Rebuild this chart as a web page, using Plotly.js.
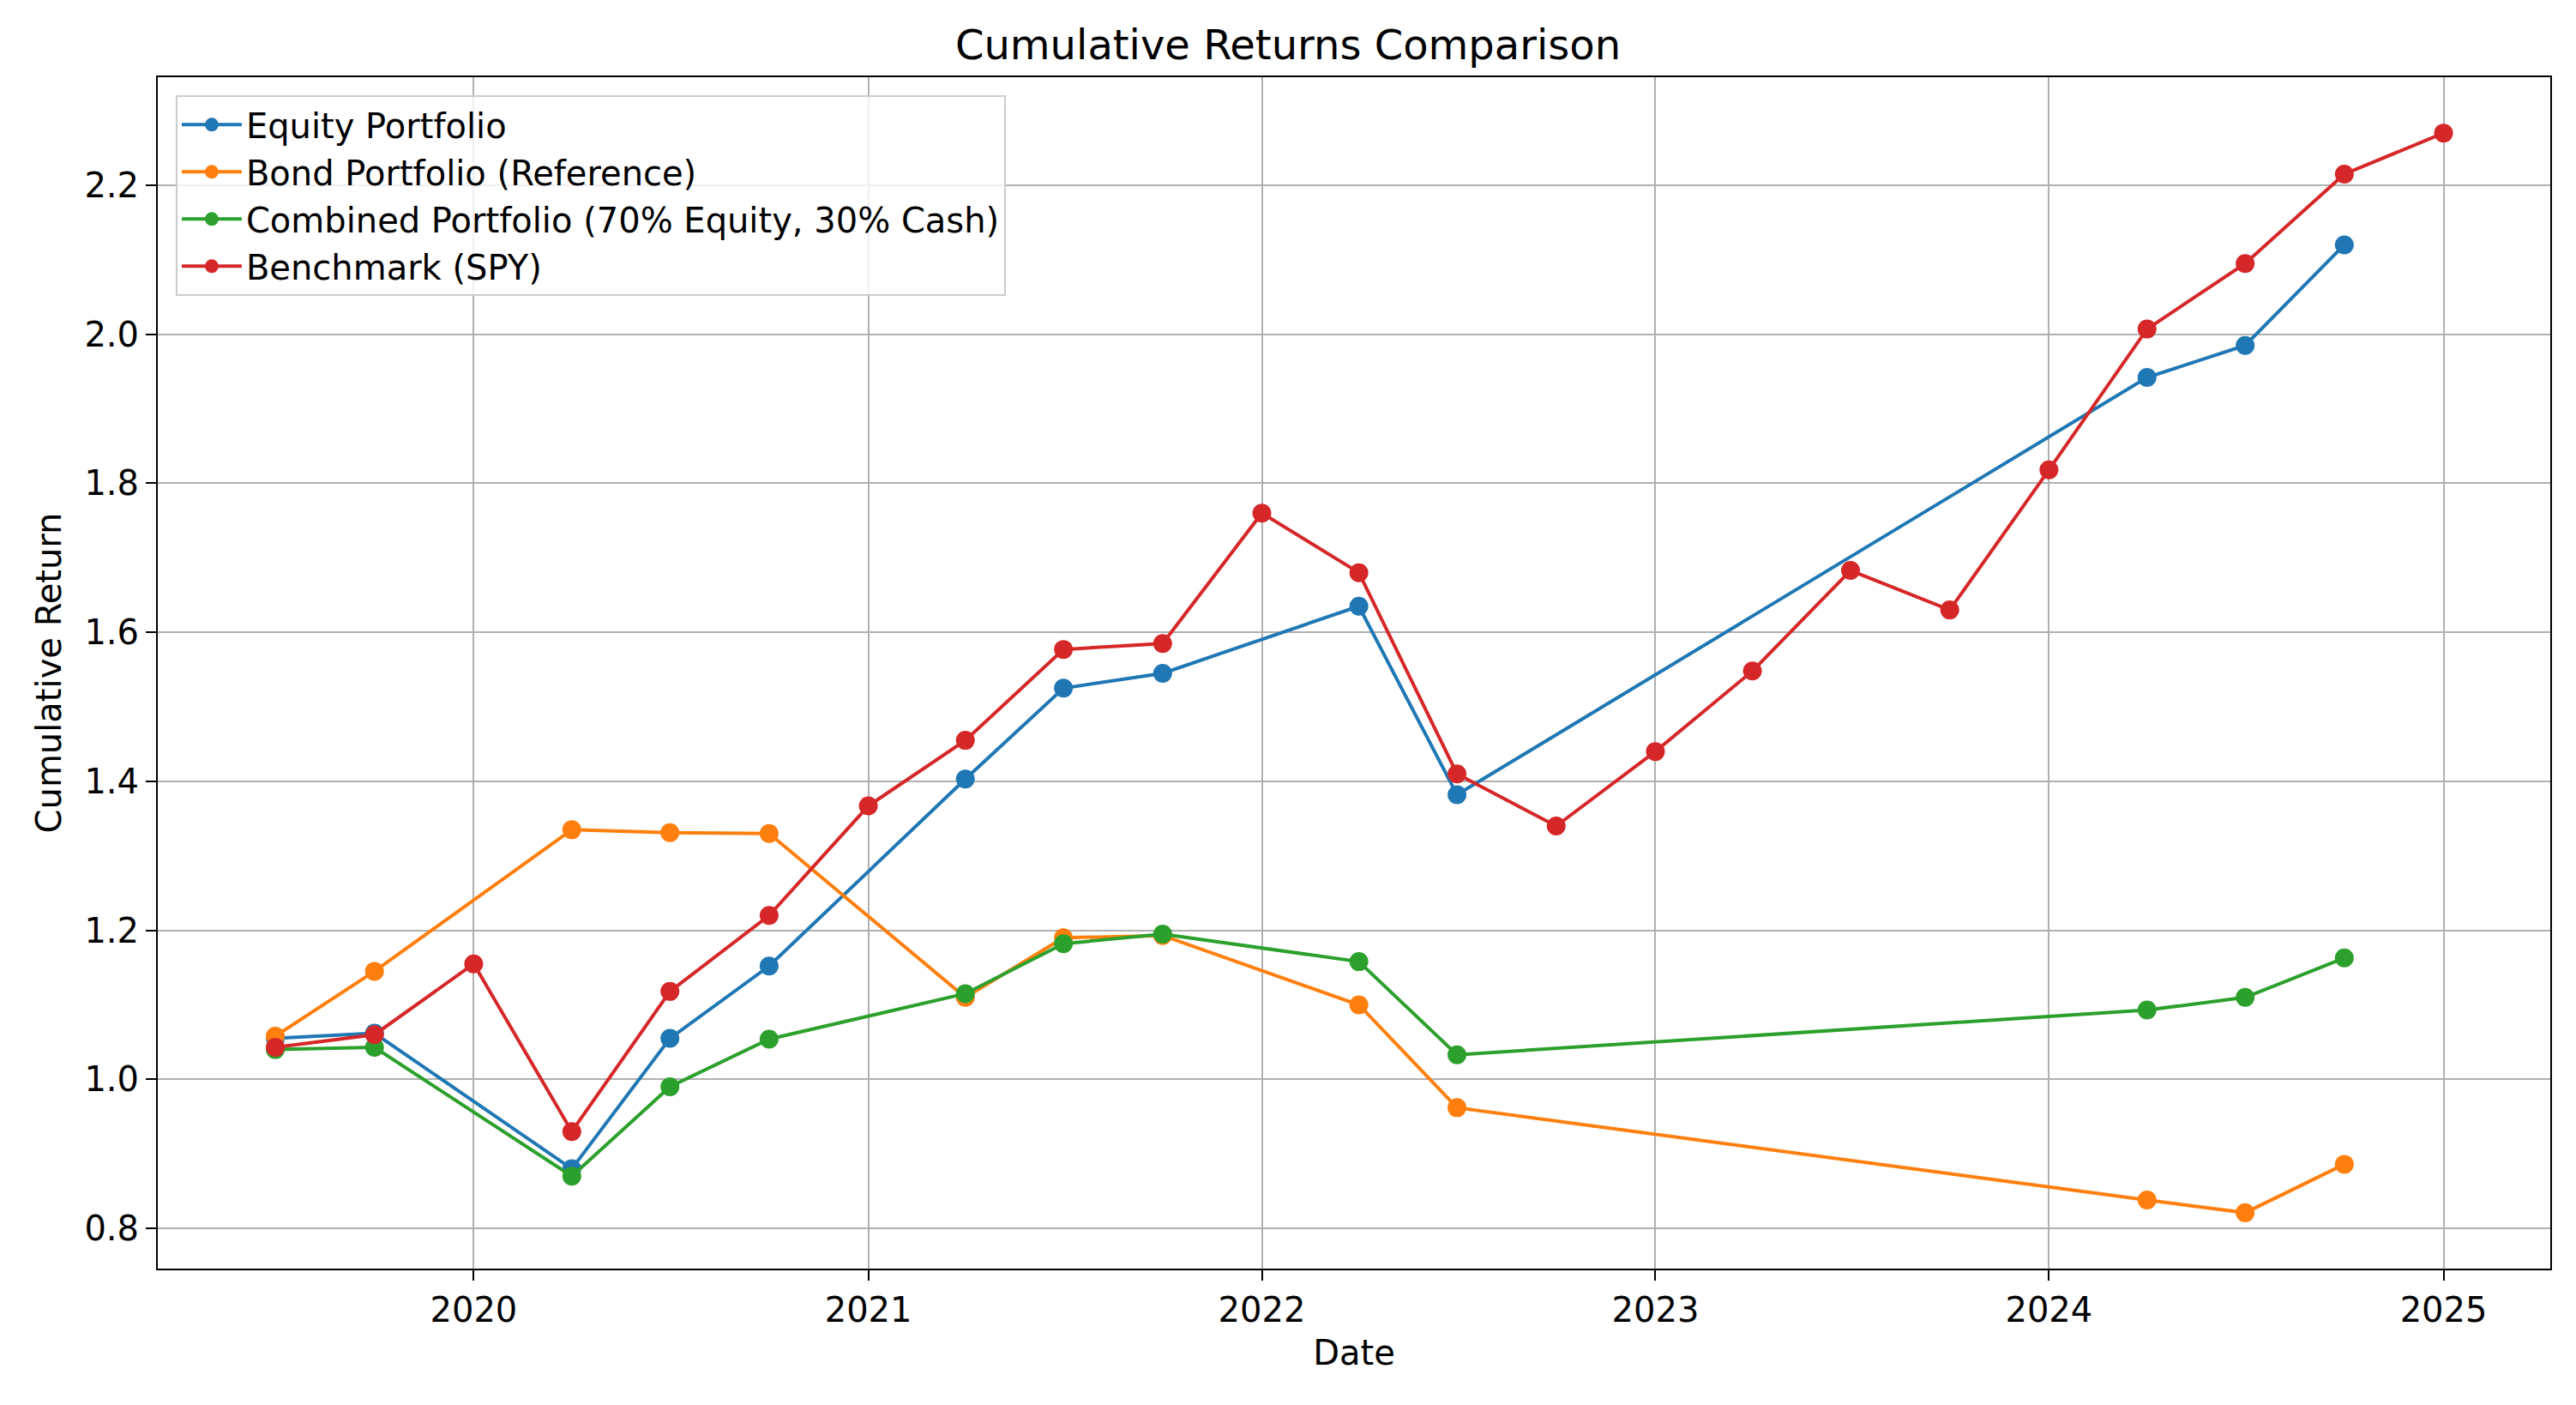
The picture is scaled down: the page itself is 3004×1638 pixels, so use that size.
<!DOCTYPE html>
<html>
<head>
<meta charset="utf-8">
<script src="https://cdn.plot.ly/plotly-3.0.1.min.js"></script>
<style>body{margin:0;background:#fff}#chart{width:3004px;height:1638px}</style>
</head>
<body>
<div id="chart"></div>
<script>
const equityDates = ["2019-07-01","2019-10-01","2020-04-01","2020-07-01","2020-10-01","2021-04-01","2021-07-01","2021-10-01","2022-04-01","2022-07-01","2024-04-01","2024-07-01","2024-10-01"];
const equityValues = [1.055,1.062,0.880,1.055,1.152,1.403,1.525,1.545,1.635,1.382,1.942,1.985,2.120];
const bondValues = [1.058,1.145,1.335,1.331,1.330,1.110,1.190,1.193,1.100,0.962,0.838,0.821,0.886];
const combinedValues = [1.040,1.043,0.870,0.990,1.054,1.115,1.182,1.195,1.158,1.033,1.093,1.110,1.163];
const benchDates = ["2019-07-01","2019-10-01","2020-01-01","2020-04-01","2020-07-01","2020-10-01","2021-01-01","2021-04-01","2021-07-01","2021-10-01","2022-01-01","2022-04-01","2022-07-01","2022-10-01","2023-01-01","2023-04-01","2023-07-01","2023-10-01","2024-01-01","2024-04-01","2024-07-01","2024-10-01","2025-01-01"];
const benchValues = [1.043,1.060,1.155,0.930,1.118,1.220,1.367,1.455,1.577,1.585,1.760,1.680,1.410,1.340,1.440,1.548,1.683,1.630,1.818,2.007,2.095,2.215,2.270];

const mk = (name, x, y, color) => ({
  type: "scatter", mode: "lines+markers", name, x, y,
  line: { color, width: 4 },
  marker: { color, size: 22 },
});

const data = [
  mk("Equity Portfolio", equityDates, equityValues, "#1f77b4"),
  mk("Bond Portfolio (Reference)", equityDates, bondValues, "#ff7f0e"),
  mk("Combined Portfolio (70% Equity, 30% Cash)", equityDates, combinedValues, "#2ca02c"),
  mk("Benchmark (SPY)", benchDates, benchValues, "#d62728"),
];

const axisCommon = {
  showline: true, mirror: true, linecolor: "#000", linewidth: 2,
  ticks: "outside", ticklen: 12, tickwidth: 2, tickcolor: "#000",
  showgrid: true, gridcolor: "#b0b0b0", gridwidth: 2, zeroline: false,
  tickfont: { size: 40, color: "#000" },
};

const layout = {
  width: 3004, height: 1638,
  font: { family: "DejaVu Sans, sans-serif", color: "#000" },
  paper_bgcolor: "#fff", plot_bgcolor: "#fff",
  margin: { l: 184, r: 30, t: 90, b: 159 },
  title: { text: "Cumulative Returns Comparison", font: { size: 48 }, x: 0.5, xanchor: "center", y: 0.968, yanchor: "middle" },
  xaxis: Object.assign({}, axisCommon, {
    type: "date", range: ["2019-03-14", "2025-04-10"],
    tickvals: ["2020-01-01","2021-01-01","2022-01-01","2023-01-01","2024-01-01","2025-01-01"],
    ticktext: ["2020","2021","2022","2023","2024","2025"],
    title: { text: "Date", font: { size: 40 }, standoff: 14 },
  }),
  yaxis: Object.assign({}, axisCommon, {
    range: [0.746, 2.345], dtick: 0.2, tickformat: ".1f",
    title: { text: "Cumulative Return", font: { size: 40 }, standoff: 14 },
  }),
  showlegend: true,
  legend: {
    x: 0.0075, y: 0.985, xanchor: "left", yanchor: "top",
    bgcolor: "rgba(255,255,255,0.8)", bordercolor: "#cccccc", borderwidth: 2,
    font: { size: 40 }, itemwidth: 70, tracegroupgap: 0,
  },
};

Plotly.newPlot("chart", data, layout, { displayModeBar: false });
</script>
</body>
</html>
